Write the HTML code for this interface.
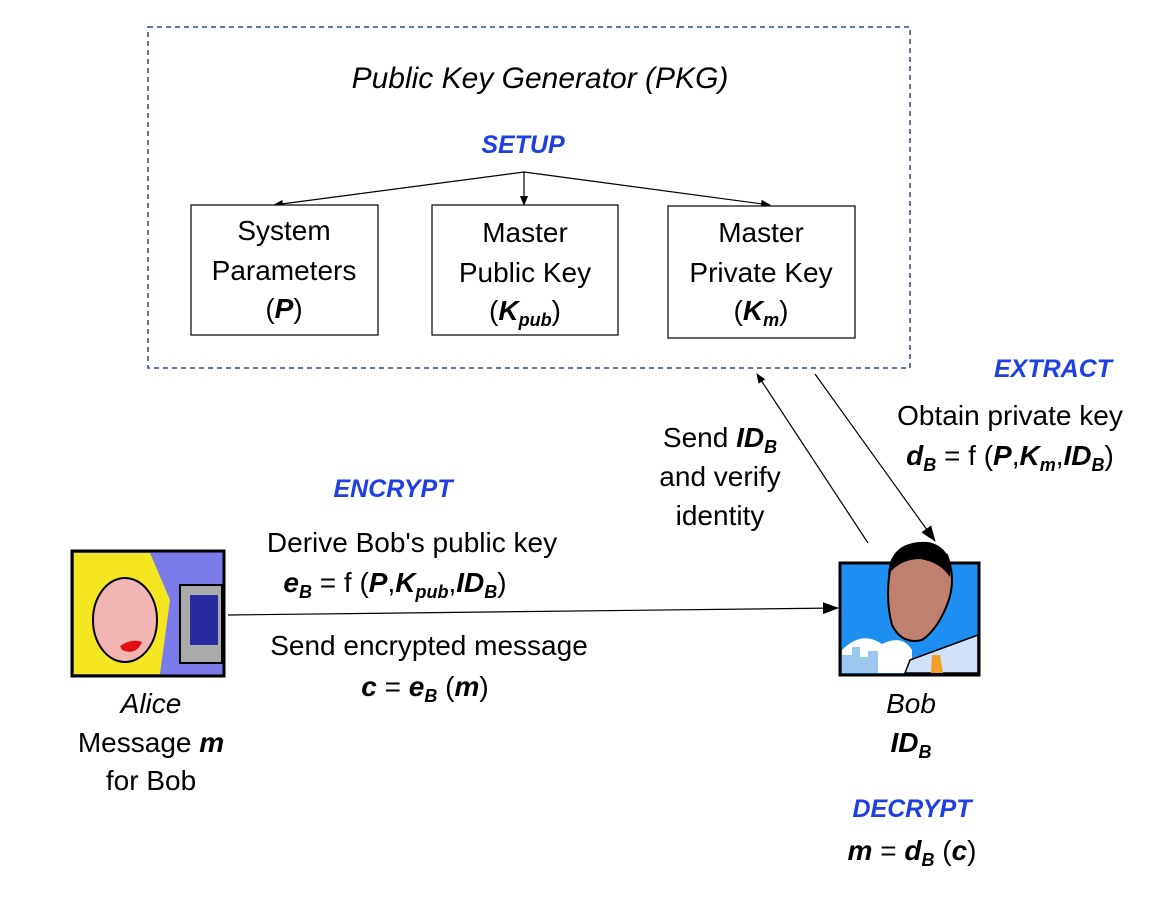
<!DOCTYPE html>
<html><head><meta charset="utf-8"><style>
body{margin:0;background:#fff;}
svg{display:block;font-family:"Liberation Sans",sans-serif;}
</style></head><body>
<svg width="1174" height="908" viewBox="0 0 1174 908">
<defs><marker id="a" markerWidth="10" markerHeight="10" refX="9" refY="5" orient="auto" markerUnits="userSpaceOnUse"><path d="M0,1 L10,5 L0,9 z" fill="#000"/></marker>
<marker id="b" markerWidth="16" markerHeight="14" refX="15" refY="7" orient="auto" markerUnits="userSpaceOnUse"><path d="M0,1 L16,7 L0,13 z" fill="#000"/></marker></defs>
<rect x="148" y="27" width="762" height="341" fill="none" stroke="#2f4f7f" stroke-width="1.5" stroke-dasharray="5,4"/>
<text x="540" y="88" font-size="30" font-style="italic" text-anchor="middle">Public Key Generator (PKG)</text>
<text x="523" y="153" font-size="25" font-style="italic" font-weight="bold" fill="#1f3fe0" text-anchor="middle">SETUP</text>
<g stroke="#000" stroke-width="1.2">
<line x1="524" y1="172" x2="274" y2="205" marker-end="url(#a)"/>
<line x1="524" y1="172" x2="524" y2="205" marker-end="url(#a)"/>
<line x1="524" y1="172" x2="770" y2="205" marker-end="url(#a)"/>
<line x1="868" y1="543" x2="757" y2="374" marker-end="url(#a)"/>
<line x1="815" y1="374" x2="935" y2="541" marker-end="url(#b)"/>
<line x1="228" y1="615" x2="838" y2="608" marker-end="url(#b)"/>
</g>
<g fill="#fff" stroke="#000" stroke-width="1.2">
<rect x="191" y="205" width="187" height="130"/>
<rect x="432" y="205" width="186" height="130"/>
<rect x="668" y="206" width="187" height="132"/>
</g>
<g font-size="28" text-anchor="middle">
<text x="284" y="240">System</text><text x="284" y="280">Parameters</text>
<text x="284" y="318">(<tspan font-weight="bold" font-style="italic">P</tspan>)</text>
<text x="525" y="242">Master</text><text x="525" y="282">Public Key</text>
<text x="525" y="320">(<tspan font-weight="bold" font-style="italic">K<tspan font-size="18" dy="6">pub</tspan></tspan><tspan dy="-6">)</tspan></text>
<text x="761" y="242">Master</text><text x="761" y="282">Private Key</text>
<text x="761" y="320">(<tspan font-weight="bold" font-style="italic">K<tspan font-size="18" dy="6">m</tspan></tspan><tspan dy="-6">)</tspan></text>
<text x="1053" y="377" font-size="25" font-style="italic" font-weight="bold" fill="#1f3fe0">EXTRACT</text>
<text x="1010" y="425">Obtain private key</text>
<text x="1010" y="465"><tspan font-weight="bold" font-style="italic">d<tspan font-size="18" dy="6">B</tspan></tspan><tspan dy="-6"> = f (</tspan><tspan font-weight="bold" font-style="italic">P</tspan>,<tspan font-weight="bold" font-style="italic">K<tspan font-size="18" dy="6">m</tspan></tspan><tspan dy="-6">,</tspan><tspan font-weight="bold" font-style="italic">ID<tspan font-size="18" dy="6">B</tspan></tspan><tspan dy="-6">)</tspan></text>
<text x="720" y="447">Send <tspan font-weight="bold" font-style="italic">ID<tspan font-size="18" dy="6">B</tspan></tspan></text>
<text x="720" y="486">and verify</text>
<text x="720" y="525">identity</text>
<text x="393" y="497" font-size="25" font-style="italic" font-weight="bold" fill="#1f3fe0">ENCRYPT</text>
<text x="412" y="552">Derive Bob's public key</text>
<text x="395" y="592"><tspan font-weight="bold" font-style="italic">e<tspan font-size="18" dy="6">B</tspan></tspan><tspan dy="-6"> = f (</tspan><tspan font-weight="bold" font-style="italic">P</tspan>,<tspan font-weight="bold" font-style="italic">K<tspan font-size="18" dy="6">pub</tspan></tspan><tspan dy="-6">,</tspan><tspan font-weight="bold" font-style="italic">ID<tspan font-size="18" dy="6">B</tspan></tspan><tspan dy="-6">)</tspan></text>
<text x="429" y="655">Send encrypted message</text>
<text x="425" y="696"><tspan font-weight="bold" font-style="italic">c</tspan> = <tspan font-weight="bold" font-style="italic">e<tspan font-size="18" dy="6">B</tspan></tspan><tspan dy="-6"> (</tspan><tspan font-weight="bold" font-style="italic">m</tspan>)</text>
<text x="151" y="713" font-style="italic">Alice</text>
<text x="151" y="752">Message <tspan font-weight="bold" font-style="italic">m</tspan></text>
<text x="151" y="790">for Bob</text>
<text x="911" y="713" font-style="italic">Bob</text>
<text x="911" y="752" font-weight="bold" font-style="italic">ID<tspan font-size="18" dy="6">B</tspan></text>
<text x="912" y="817" font-size="25" font-style="italic" font-weight="bold" fill="#1f3fe0">DECRYPT</text>
<text x="912" y="860"><tspan font-weight="bold" font-style="italic">m</tspan> = <tspan font-weight="bold" font-style="italic">d<tspan font-size="18" dy="6">B</tspan></tspan><tspan dy="-6"> (</tspan><tspan font-weight="bold" font-style="italic">c</tspan>)</text>
</g>
<!-- Alice -->
<rect x="72" y="551" width="152" height="125" fill="#7a7ae8" stroke="#000" stroke-width="3"/>
<path d="M74,553 L150,553 L170,600 L160,674 L74,674 z" fill="#f5e622"/>
<ellipse cx="125" cy="620" rx="32" ry="42" fill="#f3b4b4" stroke="#000" stroke-width="2"/>
<path d="M120,646 q12,-8 22,-4 q-6,14 -20,8z" fill="#e01010"/>
<rect x="180" y="585" width="42" height="78" fill="#aaa" stroke="#000" stroke-width="2"/>
<rect x="190" y="595" width="28" height="50" fill="#2a2aa0"/>
<!-- Bob -->
<rect x="840" y="563" width="139" height="112" fill="#1e8ef0" stroke="#000" stroke-width="3"/>
<path d="M842,650 q20,-20 40,-6 q20,-10 30,6 L912,673 L842,673z" fill="#fff"/>
<path d="M842,655 h10 v-8 h8 v10 h8 v-6 h10 v22 h-36z" fill="#9cc8f0"/>
<path d="M892,560 q30,-25 55,-5 q10,25 0,50 q-10,25 -25,35 q-20,5 -30,-15 q-8,-30 0,-65z" fill="#c08070" stroke="#000" stroke-width="2"/>
<path d="M888,575 q2,-35 40,-33 q25,5 22,35 q-10,-15 -30,-18 q-20,0 -32,16z" fill="#000"/>
<path d="M910,660 L978,635 L978,673 L905,673z" fill="#cfe0f8" stroke="#000" stroke-width="1.5"/>
<path d="M932,655 l8,0 l3,18 l-12,0z" fill="#f0a020"/>
</svg>
</body></html>
